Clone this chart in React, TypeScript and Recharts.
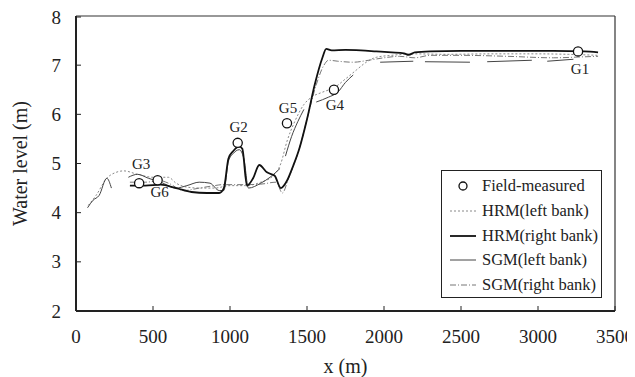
import React from 'react';
import { ComposedChart, Line, Scatter, XAxis, YAxis, ReferenceLine, Label } from 'recharts';

// water level along the reach, [x (m), level (m)], null = gap in the trace
const hrmLeft: [number, number | null][] = [
  [80, 4.15], [130, 4.35], [200, 4.7], [260, 4.82], [310, 4.85], [400, 4.78], [500, 4.72],
  [600, 4.72], [650, 4.6], [720, 4.52], [800, 4.5], [900, 4.5], [1000, 4.55], [1100, 4.55],
  [1200, 4.62], [1280, 4.75], [1330, 5.0], [1370, 5.45], [1420, 5.85], [1480, 6.2],
  [1530, 6.35], [1600, 6.45], [1680, 6.55], [1750, 6.72], [1820, 6.9], [1880, 7.05],
  [1950, 7.16], [2050, 7.2], [2200, 7.23], [2400, 7.22], [2700, 7.23], [3000, 7.23],
  [3200, 7.22], [3390, 7.2],
];

const hrmRight: [number, number | null][] = [
  [350, 4.55], [450, 4.55], [550, 4.57], [650, 4.5], [750, 4.42], [850, 4.4], [930, 4.4],
  [960, 4.5], [990, 5.1], [1020, 5.25], [1060, 5.35], [1080, 5.3], [1110, 4.55], [1150, 4.7],
  [1190, 4.97], [1240, 4.82], [1290, 4.75], [1330, 4.5], [1370, 4.65], [1410, 4.95],
  [1450, 5.3], [1500, 5.9], [1550, 6.6], [1600, 7.15], [1625, 7.33], [1660, 7.3],
  [1750, 7.31], [1850, 7.3], [1950, 7.28], [2050, 7.26], [2130, 7.24], [2160, 7.21], [2200, 7.26],
  [2300, 7.28], [2500, 7.29], [2800, 7.29], [3100, 7.29], [3300, 7.28], [3390, 7.26],
];

const sgmLeft: [number, number | null][] = [
  [75, 4.1], [110, 4.25], [150, 4.35], [200, 4.7], [230, 4.5], [280, null],
  [340, 4.72], [400, 4.78], [470, 4.7], [550, 4.62], [650, 4.5], [720, 4.55], [800, 4.62],
  [870, 4.6], [930, 4.45], [960, 4.45], [990, 5.05], [1020, 5.2], [1060, 5.28], [1090, 5.1],
  [1120, 4.5], [1200, 4.6], [1260, 4.72], [1325, 4.9], [1340, null],
  [1360, 5.15], [1400, 5.55], [1440, 5.85], [1480, 6.1], [1520, null],
  [1560, 6.25], [1640, 6.35], [1700, 6.45], [1750, 6.65], [1800, 6.8], [1880, null],
  [1975, 7.06], [2190, 7.08], [2230, null],
  [2266, 7.07], [2558, 7.06], [2610, null],
  [2670, 7.07], [2960, 7.1], [3010, null],
  [3060, 7.08], [3230, 7.12],
];

const sgmRight: [number, number | null][] = [
  [350, 4.62], [450, 4.62], [550, 4.65], [600, 4.6], [700, 4.45], [800, 4.5], [900, 4.55],
  [950, 4.57], [1100, 4.57], [1200, 4.58], [1300, 4.62], [1340, 4.4], [1380, 4.7],
  [1450, 5.3], [1500, 5.9], [1560, 6.6], [1610, 7.0], [1640, 7.1], [1700, 7.08], [1800, 7.06],
  [1900, 7.1], [2000, 7.15], [2100, 7.18], [2200, 7.15], [2300, 7.2], [2500, 7.2],
  [2800, 7.18], [3100, 7.15], [3300, 7.17], [3390, 7.18],
];

// gauges
const gaugeNames = ['G1', 'G2', 'G3', 'G6', 'G5', 'G4'];
const gaugeX = [3260, 1050, 410, 530, 1370, 1675];
const gaugeY = [7.28, 5.42, 4.6, 4.66, 5.82, 6.5];

const xTicks = [0, 500, 1000, 1500, 2000, 2500, 3000, 3500];
const yTicks = [2, 3, 4, 5, 6, 7, 8];

// where each gauge name sits relative to its circle
const labelOffset: Record<string, [number, number]> = {
  G1: [2, 18], G2: [1, -16], G3: [2, -19], G6: [2, 12], G5: [1, -15], G4: [1, 15],
};

const toPts = (s: [number, number | null][]) => s.map(([x, y]) => ({ x, y }));
const gauges = gaugeNames.map((name, i) => ({ name, x: gaugeX[i], y: gaugeY[i] }));

const FONT = "'Liberation Serif', 'DejaVu Serif', 'Times New Roman', serif";

const XTick = (props: any) => {
  const { x, y, payload } = props;
  return (
    <g>
      <line x1={x} y1={y} x2={x} y2={y - 5} stroke="#222" strokeWidth={1} />
      <text x={x} y={y + 25} textAnchor="middle" dominantBaseline="central"
        style={{ fontFamily: FONT }} fontSize={19} fill="#222">{payload.value}</text>
    </g>
  );
};

const YTick = (props: any) => {
  const { x, y, payload } = props;
  return (
    <g>
      <line x1={x} y1={y} x2={x + 5} y2={y} stroke="#222" strokeWidth={1} />
      <text x={x - 15} y={y} textAnchor="end" dominantBaseline="central"
        style={{ fontFamily: FONT }} fontSize={19} fill="#222">{payload.value}</text>
    </g>
  );
};

const GaugeShape = (props: any) => {
  const { cx, cy, payload } = props;
  const [dx, dy] = labelOffset[payload.name] || [0, -15];
  return (
    <g>
      <circle cx={cx} cy={cy} r={4.6} fill="#fff" stroke="#111" strokeWidth={1.3} />
      <text x={cx + dx} y={cy + dy} textAnchor="middle" dominantBaseline="central"
        style={{ fontFamily: FONT }} fontSize={15} fill="#222">{payload.name}</text>
    </g>
  );
};

const legendItems = [
  { label: 'Field-measured', kind: 'circle' },
  { label: 'HRM(left bank)', stroke: '#888', width: 1, dash: '2 2' },
  { label: 'HRM(right bank)', stroke: '#111', width: 1.8, dash: undefined },
  { label: 'SGM(left bank)', stroke: '#444', width: 1, dash: undefined },
  { label: 'SGM(right bank)', stroke: '#777', width: 1, dash: '6 2 1 2' },
];

function LegendBox() {
  return (
    <div style={{
      position: 'absolute', left: 433, top: 162, width: 159, height: 126,
      border: '1.2px solid #222', background: '#fff', fontFamily: FONT, fontSize: 16.5, color: '#222',
    }}>
      {legendItems.map((it, i) => (
        <div key={it.label} style={{ position: 'absolute', left: 0, top: 15 + i * 24.8 - 10, height: 20, display: 'flex', alignItems: 'center' }}>
          <svg width={40} height={20} style={{ display: 'block' }}>
            {it.kind === 'circle'
              ? <circle cx={21} cy={10} r={4} fill="#fff" stroke="#111" strokeWidth={1.3} />
              : <line x1={8} y1={10} x2={34} y2={10} stroke={it.stroke} strokeWidth={it.width} strokeDasharray={it.dash} />}
          </svg>
          <span style={{ whiteSpace: 'nowrap' }}>{it.label}</span>
        </div>
      ))}
    </div>
  );
}

export default function App() {
  return (
    <div style={{ position: 'relative', width: 627, height: 369, fontFamily: FONT }}>
      <ComposedChart width={627} height={369} margin={{ top: 8, right: 20, left: 8, bottom: 6 }}>
        <XAxis type="number" dataKey="x" domain={[0, 3500]} ticks={xTicks} allowDataOverflow
          tick={<XTick />} tickLine={false} tickSize={0} tickMargin={0} height={60}
          axisLine={{ stroke: '#222', strokeWidth: 2 }}>
          <Label content={(p: any) => {
            const vb = p.viewBox;
            return (
              <text x={vb.x + vb.width / 2} y={vb.y + 55} textAnchor="middle" dominantBaseline="central"
                style={{ fontFamily: FONT }} fontSize={20} fill="#222">x (m)</text>
            );
          }} />
        </XAxis>
        <YAxis type="number" domain={[2, 8]} ticks={yTicks} allowDataOverflow
          tick={<YTick />} tickLine={false} tickSize={0} tickMargin={0} width={60}
          axisLine={{ stroke: '#222', strokeWidth: 2 }}>
          <Label content={(p: any) => {
            const vb = p.viewBox;
            const cx = vb.x + 4;
            const cy = vb.y + vb.height / 2;
            return (
              <text x={cx} y={cy} textAnchor="middle" dominantBaseline="central"
                transform={`rotate(-90, ${cx}, ${cy})`}
                style={{ fontFamily: FONT }} fontSize={20} fill="#222">Water level (m)</text>
            );
          }} />
        </YAxis>
        <ReferenceLine y={8} stroke="#333" strokeWidth={1.2} />
        <ReferenceLine x={3500} stroke="#333" strokeWidth={1.2} />
        <Line data={toPts(hrmLeft)} dataKey="y" type="monotone" stroke="#888" strokeWidth={1}
          strokeDasharray="2 2" dot={false} activeDot={false} isAnimationActive={false} />
        <Line data={toPts(sgmRight)} dataKey="y" type="monotone" stroke="#777" strokeWidth={1}
          strokeDasharray="6 2 1 2" dot={false} activeDot={false} isAnimationActive={false} />
        <Line data={toPts(sgmLeft)} dataKey="y" type="monotone" stroke="#444" strokeWidth={1}
          dot={false} activeDot={false} isAnimationActive={false} />
        <Line data={toPts(hrmRight)} dataKey="y" type="monotone" stroke="#111" strokeWidth={1.8}
          dot={false} activeDot={false} isAnimationActive={false} />
        <Scatter data={gauges} dataKey="y" shape={<GaugeShape />} isAnimationActive={false} />
      </ComposedChart>
      <LegendBox />
    </div>
  );
}
